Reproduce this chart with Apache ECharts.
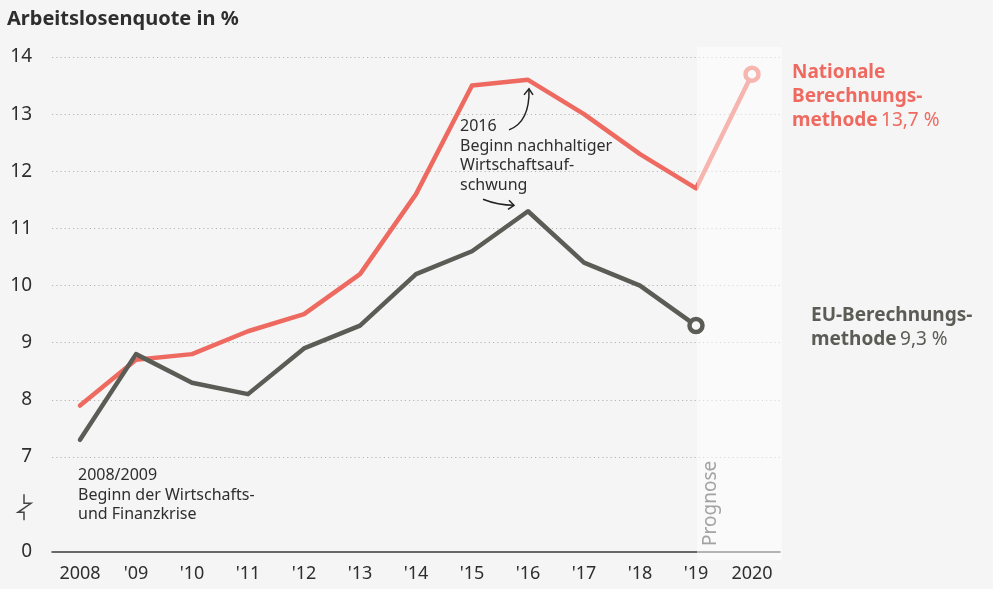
<!DOCTYPE html>
<html><head><meta charset="utf-8">
<script src="https://cdn.jsdelivr.net/npm/echarts@6/dist/echarts.min.js"></script>
<style>html,body{margin:0;padding:0;background:#f5f5f5}#c{width:993px;height:589px}</style>
</head><body><div id="c"></div><script>
const years = ["2008","'09","'10","'11","'12","'13","'14","'15","'16","'17","'18","'19","2020"];
const national = [7.9,8.7,8.8,9.2,9.5,10.2,11.6,13.5,13.6,13.0,12.3,11.7,13.7];
const eu = [7.3,8.8,8.3,8.1,8.9,9.3,10.2,10.6,11.3,10.4,10.0,9.3,null];
const yTicks = [7,8,9,10,11,12,13,14];
const yZeroPos = 5.337;   // axis bottom, labelled "0" (broken axis)
const yTop = 14.175;

const RED = '#ee6a60', GRAY = '#5b5c56', TXT = '#2e2e2e';
const FONT = '"Noto Sans"';
const GRID = {left: 52, right: 213, top: 47, bottom: 37};

const chart = echarts.init(document.getElementById('c'), null, {renderer: 'canvas'});

function endMarker(v, color) {
  return {value: v, symbol: 'circle', symbolSize: 13,
    itemStyle: {color: '#f7f7f7', borderColor: color, borderWidth: 4.5}};
}
const euLast = eu.length - 2;
const natLast = national.length - 1;

chart.setOption({
  backgroundColor: '#f5f5f5',
  animation: false,
  textStyle: {fontFamily: FONT},
  grid: GRID,
  xAxis: {
    type: 'category', data: years, boundaryGap: true,
    axisLine: {onZero: false, lineStyle: {color: '#3a3a3a', width: 1.5}},
    axisTick: {show: false},
    axisLabel: {color: TXT, fontSize: 18, margin: 13, interval: 0, fontFamily: FONT}
  },
  yAxis: {
    type: 'value', min: yZeroPos, max: yTop,
    axisLine: {show: false},
    axisTick: {show: false, customValues: yTicks},
    axisLabel: {color: TXT, fontSize: 19, margin: 20, fontFamily: FONT,
      customValues: [yZeroPos].concat(yTicks),
      formatter: v => (v < 6 ? '0' : String(Math.round(v)))},
    splitLine: {show: true, lineStyle: {color: '#b5b5b5', width: 1.2, type: [1.2, 3]}}
  },
  series: [
    {name: 'EU', type: 'line', symbol: 'none', z: 110,
      lineStyle: {color: GRAY, width: 4.5, cap: 'round', join: 'round'},
      itemStyle: {color: GRAY},
      data: eu.map((v, i) => i === euLast ? endMarker(v, GRAY) : v)},
    {name: 'National', type: 'line', symbol: 'none', z: 4,
      lineStyle: {color: RED, width: 4.5, cap: 'round', join: 'round'},
      itemStyle: {color: RED},
      data: national.map((v, i) => i === natLast ? endMarker(v, RED) : v)}
  ]
});

function px(i, v) { return chart.convertToPixel({xAxisIndex: 0, yAxisIndex: 0}, [i, v]); }
const p19 = px(11, eu[11]);
const gridRight = 993 - GRID.right;
const peakRed = px(8, national[8]);
const peakEu = px(8, eu[8]);
const yBreak = px(0, 6.12)[1];

chart.setOption({
  graphic: [
    {type: 'rect', z: 100, shape: {x: p19[0] + 1, y: GRID.top, width: gridRight + 2 - p19[0] - 1, height: 560 - GRID.top},
      style: {fill: 'rgba(255,255,255,0.5)'}},
    {type: 'text', z: 120, x: 711, y: 546, rotation: Math.PI / 2,
      style: {text: 'Prognose', fill: '#a3a3a3', font: '19px ' + FONT, textAlign: 'left', textVerticalAlign: 'middle'}},
    {type: 'text', z: 120, x: 7, y: 19,
      style: {text: 'Arbeitslosenquote in %', fill: TXT, font: 'bold 20px ' + FONT, textVerticalAlign: 'middle'}},
    // broken axis symbol
    {type: 'polyline', z: 120, shape: {points: [[24, yBreak - 13], [24, yBreak - 4], [31, yBreak - 4], [18, yBreak + 5], [24, yBreak + 5], [24, yBreak + 13]]},
      style: {stroke: '#444', lineWidth: 1.5, fill: null}},
    // annotations
    {type: 'text', z: 120, x: 78, y: 466,
      style: {text: '2008/2009\nBeginn der Wirtschafts-\nund Finanzkrise', fill: TXT, font: '16px ' + FONT, lineHeight: 19.5, textVerticalAlign: 'top'}},
    {type: 'text', z: 120, x: 460, y: 117,
      style: {text: '2016\nBeginn nachhaltiger\nWirtschaftsauf-\nschwung', fill: TXT, font: '16px ' + FONT, lineHeight: 19.5, textVerticalAlign: 'top'}},
    // arrow to red peak
    {type: 'bezierCurve', z: 120, shape: {x1: peakRed[0] - 19, y1: peakRed[1] + 50, cpx1: peakRed[0] + 2, cpy1: peakRed[1] + 42, x2: peakRed[0] + 1, y2: peakRed[1] + 9},
      style: {stroke: '#222', lineWidth: 1.5, fill: null}},
    {type: 'polyline', z: 120, shape: {points: [[peakRed[0] - 4, peakRed[1] + 15], [peakRed[0] + 1, peakRed[1] + 9], [peakRed[0] + 5, peakRed[1] + 15]]},
      style: {stroke: '#222', lineWidth: 1.5, fill: null}},
    // arrow to EU peak
    {type: 'bezierCurve', z: 120, shape: {x1: peakEu[0] - 45, y1: peakEu[1] - 12, cpx1: peakEu[0] - 30, cpy1: peakEu[1] - 6, x2: peakEu[0] - 14, y2: peakEu[1] - 6},
      style: {stroke: '#222', lineWidth: 1.5, fill: null}},
    {type: 'polyline', z: 120, shape: {points: [[peakEu[0] - 19, peakEu[1] - 11], [peakEu[0] - 14, peakEu[1] - 6], [peakEu[0] - 20, peakEu[1] - 2]]},
      style: {stroke: '#222', lineWidth: 1.5, fill: null}},
    // end labels
    {type: 'text', z: 120, x: 792, y: 61,
      style: {text: '{b|Nationale}\n{b|Berechnungs-}\n{b|methode} {n|13,7 %}', fill: RED, textVerticalAlign: 'top',
        rich: {b: {fill: RED, font: 'bold 19px ' + FONT, lineHeight: 24}, n: {fill: RED, font: '19px ' + FONT, lineHeight: 24}}}},
    {type: 'text', z: 120, x: 811, y: 304,
      style: {text: '{b|EU-Berechnungs-}\n{b|methode} {n|9,3 %}', fill: GRAY, textVerticalAlign: 'top',
        rich: {b: {fill: GRAY, font: 'bold 19px ' + FONT, lineHeight: 24}, n: {fill: GRAY, font: '19px ' + FONT, lineHeight: 24}}}}
  ]
});
</script></body></html>
